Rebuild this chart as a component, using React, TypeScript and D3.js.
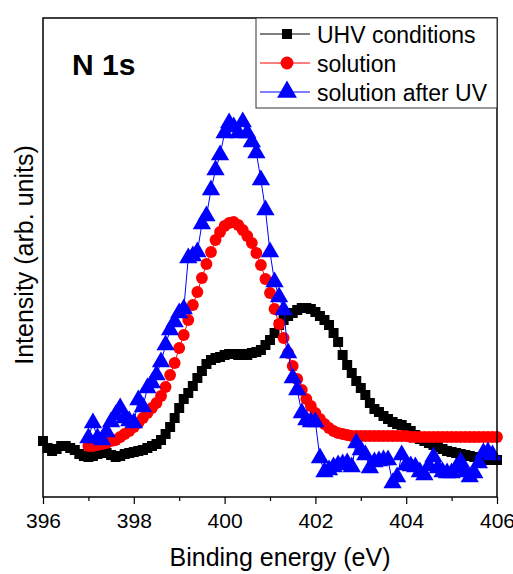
import React, { useRef, useEffect } from "react";
import * as d3 from "d3";

// intensities (arb. units), 0.1 eV steps
const uhvStart = 396.0;
const uhvValues = [
  56, 49, 46, 48, 51, 51, 49, 47, 43, 41,
  40, 41, 43, 45, 44, 42, 40, 41, 43, 44,
  45, 46, 47, 49, 51, 53, 57, 63, 70, 79,
  89, 98, 104, 111, 119, 126, 133, 137, 139, 140,
  142, 143, 143, 142, 143, 142, 144, 145, 147, 152,
  157, 164, 172, 177, 181, 184, 187, 189, 189, 188,
  185, 181, 177, 172, 164, 155, 142, 132, 124, 116,
  109, 102, 94, 88, 85, 81, 78, 75, 73, 72,
  69, 66, 62, 58, 56, 54, 52, 50, 48, 46,
  45, 44, 43, 42, 41, 40, 39, 38, 37, 37,
  37,
];

const solStart = 397.0;
const solValues = [
  51, 51, 52, 53, 54, 56, 57, 60, 63, 66,
  70, 74, 79, 84, 89, 94, 101, 110, 122, 134,
  149, 162, 177, 192, 205, 219, 233, 245, 257, 265,
  271, 274, 275, 272, 267, 261, 254, 244, 232, 218,
  204, 188, 173, 159, 144, 131, 118, 107, 98, 91,
  84, 78, 73, 69, 66, 64, 63, 62, 61, 61,
  61, 61, 61, 61, 61, 61, 61, 61, 61, 61,
  61, 60, 60, 60, 60, 60, 60, 60, 60, 60,
  60, 60, 60, 60, 60, 60, 60, 60, 60, 60,
  60,
];

const uvStart = 397.0;
const uvValues = [
  59, 74, 59, 57, 65, 75, 82, 89, 79, 76,
  74, 97, 90, 109, 114, 122, 135, 152, 167, 175,
  184, 188, 239, 241, 245, 273, 281, 307, 327, 342,
  364, 374, 370, 364, 375, 364, 355, 344, 317, 287,
  245, 215, 200, 187, 144, 119, 107, 84, 77, 75,
  75, 39, 25, 27, 30, 32, 33, 34, 30, 54,
  47, 42, 29, 35, 36, 37, 37, 14, 20, 42,
  32, 31, 30, 25, 22, 31, 40, 29, 25, 24,
  24, 29, 35, 25, 20, 24, 34, 44, 45, 42,
];

const xTicks = [396, 398, 400, 402, 404, 406];
const seriesNames = ["UHV conditions", "solution", "solution after UV"];
const seriesColors = ["#000000", "#ff0000", "#0000ff"];

const toPoints = (start: number, vals: number[]) =>
  vals.map((v, i) => ({ e: +(start + i * 0.1).toFixed(1), v }));

const W = 513;
const H = 574;
const margin = { top: 18, right: 16, bottom: 77, left: 43 };
const FONT = "'Liberation Sans', Arial, sans-serif";

const App = () => {
  const svgRef = useRef<SVGSVGElement | null>(null);

  useEffect(() => {
    const svg = d3.select(svgRef.current);
    svg.selectAll("*").remove();

    const x = d3
      .scaleLinear()
      .domain([396, 406])
      .range([margin.left, W - margin.right]);
    const y = d3
      .scaleLinear()
      .domain([0, 479])
      .range([H - margin.bottom, margin.top]);

    const symbols = [d3.symbolSquare, d3.symbolCircle, d3.symbolTriangle];
    const sizes = [100, 110, 145];
    const data = [
      toPoints(uhvStart, uhvValues),
      toPoints(solStart, solValues),
      toPoints(uvStart, uvValues),
    ];

    const lineGen = d3
      .line<{ e: number; v: number }>()
      .x((d) => x(d.e))
      .y((d) => y(d.v));

    const plot = svg.append("g");
    data.forEach((pts, k) => {
      plot
        .append("path")
        .attr("d", lineGen(pts))
        .attr("fill", "none")
        .attr("stroke", seriesColors[k])
        .attr("stroke-width", 1);
      plot
        .append("g")
        .selectAll("path")
        .data(pts)
        .join("path")
        .attr("transform", (d) => `translate(${x(d.e)},${y(d.v)})`)
        .attr("d", d3.symbol(symbols[k], sizes[k])())
        .attr("fill", seriesColors[k]);
    });

    // frame
    svg
      .append("rect")
      .attr("x", margin.left)
      .attr("y", margin.top)
      .attr("width", W - margin.left - margin.right)
      .attr("height", H - margin.top - margin.bottom)
      .attr("fill", "none")
      .attr("stroke", "#000")
      .attr("stroke-width", 1.5);

    // x axis
    const xAxis = svg
      .append("g")
      .attr("transform", `translate(0,${H - margin.bottom})`)
      .call(d3.axisBottom(x).tickValues(xTicks).tickSize(7).tickPadding(9));
    svg
      .append("g")
      .attr("transform", `translate(0,${H - margin.bottom})`)
      .call(
        d3
          .axisBottom(x)
          .tickValues(d3.range(397, 406, 2))
          .tickSize(4)
          .tickFormat(() => "")
      )
      .call((g) => g.select(".domain").remove())
      .selectAll("line")
      .attr("stroke-width", 1.2);
    xAxis.select(".domain").remove();
    xAxis.selectAll("line").attr("stroke-width", 1.2);
    xAxis
      .selectAll("text")
      .attr("font-family", FONT)
      .attr("font-size", 21)
      .attr("fill", "#000");

    // axis titles
    svg
      .append("text")
      .attr("x", (margin.left + W - margin.right) / 2 + 10)
      .attr("y", 566)
      .attr("text-anchor", "middle")
      .attr("font-family", FONT)
      .attr("font-size", 25)
      .text("Binding energy (eV)");
    svg
      .append("text")
      .attr("transform", "translate(33,255) rotate(-90)")
      .attr("text-anchor", "middle")
      .attr("font-family", FONT)
      .attr("font-size", 25)
      .text("Intensity (arb. units)");

    svg
      .append("text")
      .attr("x", 72)
      .attr("y", 75)
      .attr("font-family", FONT)
      .attr("font-size", 30)
      .attr("font-weight", "bold")
      .text("N 1s");

    // legend
    const lg = svg.append("g");
    lg.append("rect")
      .attr("x", 256)
      .attr("y", margin.top)
      .attr("width", W - margin.right - 256)
      .attr("height", 90)
      .attr("fill", "#fff")
      .attr("stroke", "#333")
      .attr("stroke-width", 1);
    const legendSizes = [100, 130, 170];
    seriesNames.forEach((name, k) => {
      const ly = 34 + k * 29;
      lg.append("line")
        .attr("x1", 260)
        .attr("x2", 310)
        .attr("y1", ly)
        .attr("y2", ly)
        .attr("stroke", seriesColors[k])
        .attr("stroke-width", 1);
      lg.append("path")
        .attr("transform", `translate(287,${ly})`)
        .attr("d", d3.symbol(symbols[k], legendSizes[k])())
        .attr("fill", seriesColors[k]);
      lg.append("text")
        .attr("x", 317)
        .attr("y", ly + 8.5)
        .attr("font-family", FONT)
        .attr("font-size", 23)
        .text(name);
    });
  }, []);

  return (
    <svg
      ref={svgRef}
      width={W}
      height={H}
      style={{ position: "absolute", left: 0, top: 0, background: "#fff" }}
    />
  );
};

export default App;
